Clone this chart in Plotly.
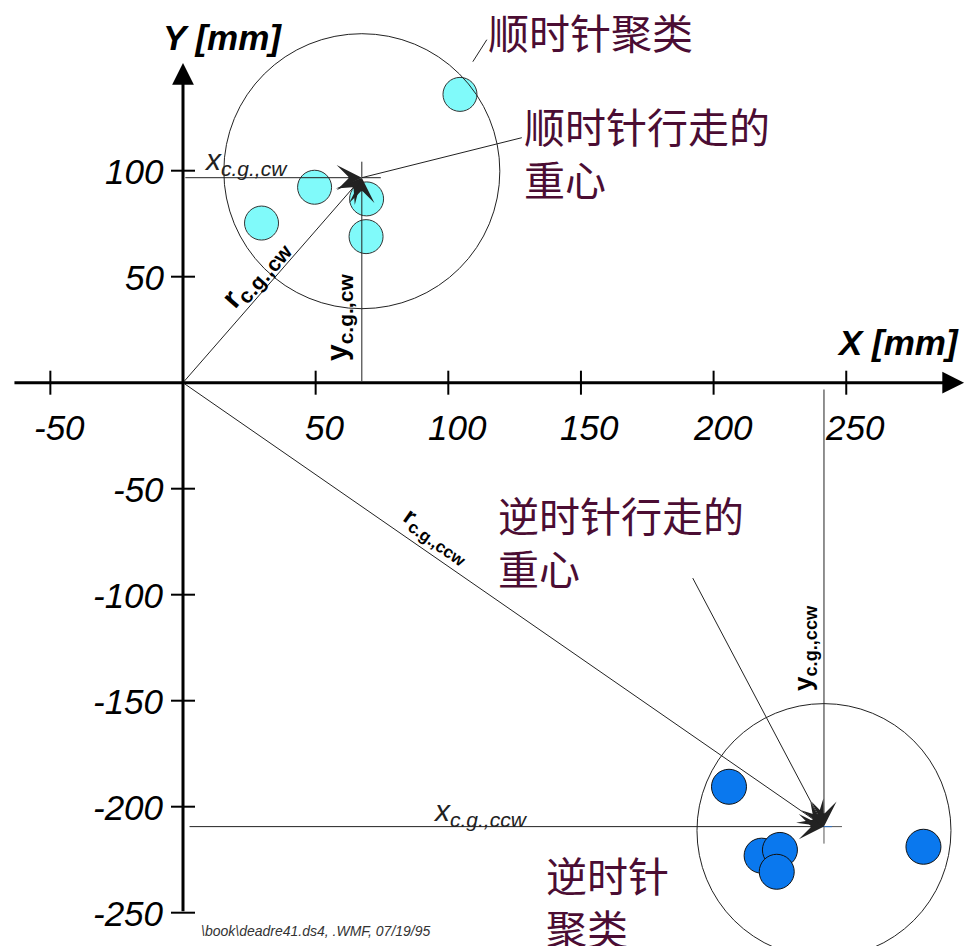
import plotly.graph_objects as go

# ---------------- data ----------------
cw_x = [29.6, 49.6, 69.2, 69.0, 104.4]
cw_y = [75.3, 92.2, 86.7, 68.9, 136.0]
ccw_x = [205.8, 218.1, 225.0, 223.8, 279.1]
ccw_y = [-190.6, -223.1, -220.4, -230.7, -218.9]
cg_cw = (67.4, 96.7)
cg_ccw = (241.6, -209.4)
x_ticks = [-50, 50, 100, 150, 200, 250]
y_ticks = [100, 50, -50, -100, -150, -200, -250]
x_axis_start, x_axis_end = -64.1, 294.4
y_axis_start, y_axis_end = -250, 150.8

# ---------------- style ----------------
FONT = "Liberation Sans, Arial, sans-serif"
CJK = "Noto Sans CJK SC"
TXT = "#4B0D33"
LINE = "#222222"

fig = go.Figure()

# markers
fig.add_trace(go.Scatter(x=cw_x, y=cw_y, mode="markers",
                         marker=dict(size=34, color="#80FAFA", line=dict(color="#333333", width=1)),
                         showlegend=False, hoverinfo="skip"))
fig.add_trace(go.Scatter(x=ccw_x, y=ccw_y, mode="markers",
                         marker=dict(size=35, color="#0A78EE", line=dict(color="#111111", width=1)),
                         showlegend=False, hoverinfo="skip"))

shapes = []
# ticks
for t in x_ticks:
    shapes.append(dict(type="line", x0=t, x1=t, yanchor=0, ysizemode="pixel", y0=-12, y1=12,
                       line=dict(color="black", width=2)))
for t in y_ticks:
    shapes.append(dict(type="line", y0=t, y1=t, xanchor=0, xsizemode="pixel", x0=-12, x1=12,
                       line=dict(color="black", width=2)))

# cluster circles
shapes.append(dict(type="circle", xanchor=cg_cw[0], yanchor=cg_cw[1], xsizemode="pixel", ysizemode="pixel",
                   x0=-138, x1=138, y0=-131, y1=144, line=dict(color=LINE, width=1)))
shapes.append(dict(type="circle", xanchor=cg_ccw[0], yanchor=cg_ccw[1], xsizemode="pixel", ysizemode="pixel",
                   x0=-127, x1=127, y0=-131, y1=123, line=dict(color=LINE, width=1)))

# extensions past the centres of gravity and leader lines
def pix_line(anchor, x0, y0, x1, y1, color=LINE):
    return dict(type="line", xanchor=anchor[0], yanchor=anchor[1], xsizemode="pixel", ysizemode="pixel",
                x0=x0, y0=y0, x1=x1, y1=y1, line=dict(color=color, width=1))

shapes.append(pix_line(cg_cw, 0, 0, 19, 0))
shapes.append(pix_line(cg_cw, 0, 0, 0, 16))
shapes.append(pix_line(cg_cw, 0, 0, 160, 40))
shapes.append(pix_line(cg_cw, 111, 116, 125, 138))
shapes.append(pix_line(cg_ccw, 0, 0, 18, 0, "#555555"))
shapes.append(pix_line(cg_ccw, 0, 0, 0, -17, "#555555"))
shapes.append(pix_line(cg_ccw, -8, 0, 8, 0, "#3070c0"))

annotations = []

def arrow(x, y, ax, ay, width=1, head=3, size=4.2, ref="data", color=LINE):
    d = dict(x=x, y=y, text="", showarrow=True, arrowhead=head, arrowsize=size,
             arrowwidth=width, arrowcolor=color, ax=ax, ay=ay)
    if ref == "data":
        d.update(axref="x", ayref="y")
    return d

# axes with arrowheads
annotations.append(arrow(x_axis_end, 0, x_axis_start, 0, width=3, head=2, size=1.45, color="black"))
annotations.append(arrow(0, y_axis_end, 0, y_axis_start, width=3, head=2, size=1.45, color="black"))

# vectors to the centres of gravity
annotations.append(arrow(cg_cw[0], cg_cw[1], 0, 0))
annotations.append(arrow(cg_cw[0], cg_cw[1], 0.3, cg_cw[1]))
annotations.append(arrow(cg_cw[0], cg_cw[1], cg_cw[0], 0))
annotations.append(arrow(cg_ccw[0], cg_ccw[1], 0, 0))
annotations.append(arrow(cg_ccw[0], cg_ccw[1], 1.9, cg_ccw[1]))
annotations.append(arrow(cg_ccw[0], cg_ccw[1], cg_ccw[0], -2.5))
annotations.append(arrow(cg_ccw[0], cg_ccw[1], -132, -250, ref="pixel"))

# tick labels
for t in x_ticks:
    annotations.append(dict(x=t, y=0, text=str(t), showarrow=False, xshift=9, yshift=-45,
                            xanchor="center", yanchor="middle",
                            font=dict(family=FONT, size=35, style="italic", color="black")))
for t in y_ticks:
    annotations.append(dict(x=0, y=t, text=str(t), showarrow=False, xanchor="right", yanchor="middle",
                            xshift=-17, yshift=-1,
                            font=dict(family=FONT, size=35, style="italic", color="black")))

def txt(px, py, text, size, family=FONT, color="black", weight="normal", style="normal",
        xanchor="center", yanchor="middle", **kw):
    # px, py are pixel positions on the 965x946 canvas
    d = dict(x=px / 965, y=1 - py / 946, xref="paper", yref="paper", text=text, showarrow=False,
             xanchor=xanchor, yanchor=yanchor,
             font=dict(family=family, size=size, color=color, weight=weight, style=style))
    d.update(kw)
    return d

# axis titles
annotations.append(txt(222, 37, "Y [mm]", 35, weight="bold", style="italic"))
annotations.append(txt(898, 342, "X [mm]", 35, weight="bold", style="italic"))

# vector labels
annotations.append(txt(246, 162, "x<sub>c.g.,cw</sub>", 30, style="italic", color="#222222"))
annotations.append(txt(480, 812, "x<sub>c.g.,ccw</sub>", 30, style="italic", color="#222222"))
annotations.append(txt(255, 273, "r<sub>c.g.,cw</sub>", 30, weight="bold", textangle=-49))
annotations.append(txt(338, 318, "y<sub>c.g.,cw</sub>", 30, weight="bold", textangle=-90))
annotations.append(txt(437, 536, "r<sub>c.g.,ccw</sub>", 24, weight="bold", textangle=35))
annotations.append(txt(804, 648, "y<sub>c.g.,ccw</sub>", 26, weight="bold", textangle=-90))

# Chinese labels
annotations.append(txt(590, 31, "顺时针聚类", 41, family=CJK, color=TXT))
annotations.append(txt(522, 151, "顺时针行走的<br>重心", 41, family=CJK, color=TXT, xanchor="left", align="left"))
annotations.append(txt(496, 540, "逆时针行走的<br>重心", 41, family=CJK, color=TXT, xanchor="left", align="left"))
annotations.append(txt(544, 900, "逆时针<br>聚类", 41, family=CJK, color=TXT, xanchor="left", align="left"))

# footer
annotations.append(txt(316, 931, r"\book\deadre41.ds4, .WMF, 07/19/95", 14, style="italic", color="#333333"))

fig.update_layout(
    width=965, height=946, autosize=False,
    margin=dict(l=0, r=0, t=0, b=0, pad=0),
    paper_bgcolor="white", plot_bgcolor="white",
    xaxis=dict(range=[-68.98, 294.76], visible=False, fixedrange=True),
    yaxis=dict(range=[-265.71, 180.52], visible=False, fixedrange=True),
    shapes=shapes, annotations=annotations, showlegend=False,
)

fig.write_html("out.html", config={"displayModeBar": False},
               post_script="document.body.style.margin='0px';")
